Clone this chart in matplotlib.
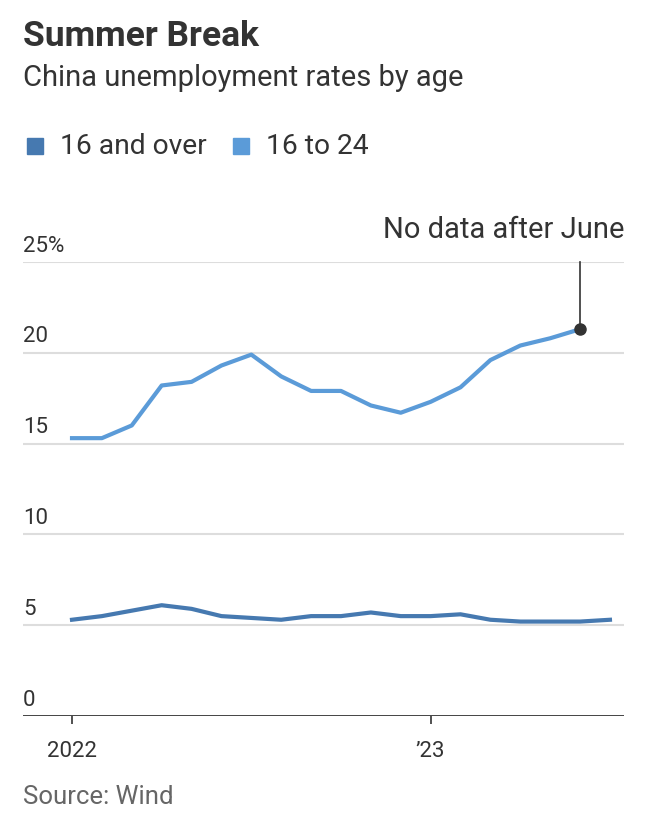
import matplotlib
matplotlib.use('Agg')
import matplotlib.pyplot as plt
import numpy as np

# monthly data, Jan 2022 .. Jul 2023
months = ['2022-01', '2022-02', '2022-03', '2022-04', '2022-05', '2022-06',
          '2022-07', '2022-08', '2022-09', '2022-10', '2022-11', '2022-12',
          '2023-01', '2023-02', '2023-03', '2023-04', '2023-05', '2023-06',
          '2023-07']
all_ages = [5.3, 5.5, 5.8, 6.1, 5.9, 5.5, 5.4, 5.3, 5.5, 5.5, 5.7, 5.5,
            5.5, 5.6, 5.3, 5.2, 5.2, 5.2, 5.3]
youth = [15.3, 15.3, 16.0, 18.2, 18.4, 19.3, 19.9, 18.7, 17.9, 17.9, 17.1, 16.7,
         17.3, 18.1, 19.6, 20.4, 20.8, 21.3]
series_names = ['16 and over', '16 to 24']
yticks = [0, 5, 10, 15, 20, 25]
ytick_labels = ['0', '5', '10', '15', '20', '25%']
xtick_pos = [0, 12]
xtick_labels = ['2022', '\u201923']

plt.rcParams['font.family'] = ['Roboto', 'DejaVu Sans']

c_all = '#4679b0'
c_young = '#5b9bd8'
txt = '#333333'

W, H = 660, 834
fig = plt.figure(figsize=(W / 100, H / 100), dpi=100)
ax = fig.add_axes([23 / W, 1 - 716 / H, (624 - 23) / W, (716 - 262) / H])

x_all = np.arange(len(all_ages))
x_young = np.arange(len(youth))
for v in yticks[1:]:
    ax.axhline(v, color='#dddddd', lw=1.5, zorder=1)
ax.axhline(0, color=txt, lw=2, zorder=3)
ax.plot(x_all, all_ages, color=c_all, lw=3, zorder=4, solid_joinstyle='round')
ax.plot(x_young, youth, color=c_young, lw=3, zorder=4, solid_joinstyle='round')
ax.plot(x_young[-1], youth[-1], 'o', color=txt, ms=8, zorder=5)
ax.plot([x_young[-1], x_young[-1]], [youth[-1], 25], color=txt, lw=1.2,
        zorder=5, clip_on=False)
ax.text(18.47, 26.0, 'No data after June', ha='right', va='bottom',
        fontsize=21, color=txt)

ax.set_xlim(-1.64, 18.47)
ax.set_ylim(0, 25)
for s in ax.spines.values():
    s.set_visible(False)
ax.set_yticks([])
ax.set_xticks(xtick_pos)
ax.set_xticklabels(xtick_labels, fontsize=16, color=txt)
ax.tick_params(axis='x', length=6, width=1.2, color=txt, pad=12)
for v, lab in zip(yticks, ytick_labels):
    ax.text(-1.64, v + 0.3, lab, ha='left', va='bottom', fontsize=16, color=txt)

fig.text(23 / W, 1 - 37 / H, 'Summer Break', fontsize=25.5, fontweight='bold',
         color=txt, va='center')
fig.text(23 / W, 1 - 78 / H, 'China unemployment rates by age', fontsize=21,
         color=txt, va='center')
for (x0, name, col) in [(27, series_names[0], c_all), (233, series_names[1], c_young)]:
    fig.patches.append(plt.Rectangle((x0 / W, 1 - 154 / H), 16 / W, 16 / H,
                                     transform=fig.transFigure, color=col))
    fig.text((x0 + 33) / W, 1 - 146 / H, name, fontsize=20.3, color=txt, va='center')
fig.text(23 / W, 1 - 797 / H, 'Source: Wind', fontsize=18.5, color='#666666',
         va='center')

fig.savefig('out.png', dpi=100)
